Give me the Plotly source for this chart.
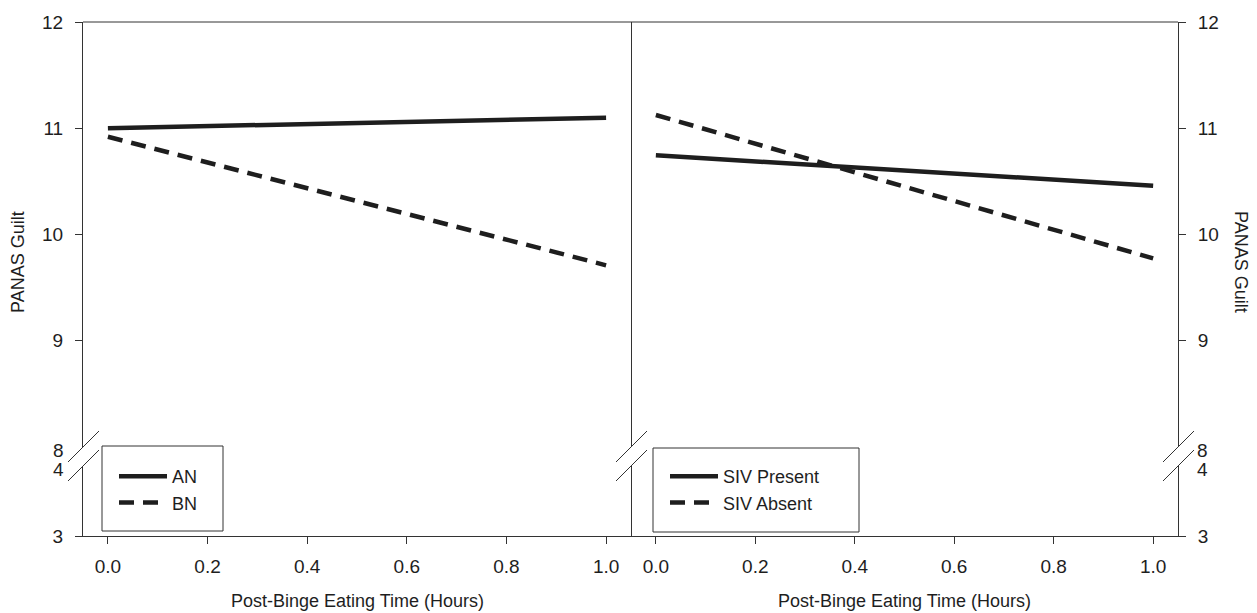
import plotly.graph_objects as go

# ---- data ----
hours = [0.0, 1.0]
an = [11.00, 11.10]
bn = [10.92, 9.71]
siv_present = [10.745, 10.46]
siv_absent = [11.125, 9.775]

x_ticks = [0.0, 0.2, 0.4, 0.6, 0.8, 1.0]
upper_ticks = [9, 10, 11, 12]
lower_ticks = [3]
break_top, break_bottom = 8, 4
y_title = "PANAS Guilt"
x_title = "Post-Binge Eating Time (Hours)"

FONT = "Liberation Sans, Arial, sans-serif"
INK = "#1e1e1e"
AX = "#333333"
OFF = 8  # page body margin
W, H = 1257 - OFF, 613 - OFF
L, R, T, B = 83 - OFF, 79, 22 - OFF, 77
PW, PH = W - L - R, H - T - B


def px(xr):  # reference x pixel -> paper
    return (xr - 83) / PW


def py(yr):  # reference y pixel -> paper
    return (536 - yr) / PH


split = px(631)
up_dom = [py(447), 1.0]
lo_dom = [0.0, py(466)]

fig = go.Figure()
lw = 4.5
dash = "15px,9px"
fig.add_trace(go.Scatter(x=hours, y=an, mode="lines", name="AN",
                         line=dict(color=INK, width=lw), xaxis="x", yaxis="y", legend="legend"))
fig.add_trace(go.Scatter(x=hours, y=bn, mode="lines", name="BN",
                         line=dict(color=INK, width=lw, dash=dash), xaxis="x", yaxis="y", legend="legend"))
fig.add_trace(go.Scatter(x=hours, y=siv_present, mode="lines", name="SIV Present",
                         line=dict(color=INK, width=lw), xaxis="x2", yaxis="y3", legend="legend2"))
fig.add_trace(go.Scatter(x=hours, y=siv_absent, mode="lines", name="SIV Absent",
                         line=dict(color=INK, width=lw, dash=dash), xaxis="x2", yaxis="y3", legend="legend2"))
# placeholders so the lower (broken) axis segments exist as subplots
for xa, ya in [("x", "y2"), ("x2", "y4")]:
    fig.add_trace(go.Scatter(x=[None], y=[None], mode="lines", showlegend=False,
                             hoverinfo="skip", xaxis=xa, yaxis=ya))

tickfont = dict(family=FONT, size=19, color=INK)
xcommon = dict(range=[-0.05, 1.05], tickvals=x_ticks, tickformat=".1f", ticks="outside",
               ticklen=7, tickwidth=1, tickcolor=AX, showline=True, linecolor=AX, linewidth=1,
               showgrid=False, zeroline=False, tickfont=tickfont, ticklabelstandoff=6)
ycommon = dict(ticks="outside", ticklen=7, tickwidth=1, tickcolor=AX, showline=True,
               linecolor=AX, linewidth=1, showgrid=False, zeroline=False,
               tickfont=tickfont, ticklabelstandoff=8)

legfont = dict(family=FONT, size=18, color=INK)
fig.update_layout(
    width=W, height=H, margin=dict(l=L, r=R, t=T, b=B, autoexpand=False),
    paper_bgcolor="white", plot_bgcolor="white",
    font=dict(family=FONT, size=19, color=INK),
    xaxis=dict(domain=[0, split], anchor="y2", **xcommon),
    xaxis2=dict(domain=[split, 1], anchor="y4", **xcommon),
    yaxis=dict(domain=up_dom, range=[8, 12], tickvals=upper_ticks, anchor="x", mirror=True, **ycommon),
    yaxis2=dict(domain=lo_dom, range=[3, 4], tickvals=lower_ticks, anchor="x", mirror=True, **ycommon),
    yaxis3=dict(domain=up_dom, range=[8, 12], tickvals=upper_ticks, anchor="x2", side="right", **ycommon),
    yaxis4=dict(domain=lo_dom, range=[3, 4], tickvals=lower_ticks, anchor="x2", side="right", **ycommon),
    legend=dict(x=px(114), y=py(521), xanchor="left", yanchor="bottom",
                bgcolor="rgba(0,0,0,0)", borderwidth=0, font=legfont,
                itemwidth=48, tracegroupgap=0),
    legend2=dict(x=px(665), y=py(521), xanchor="left", yanchor="bottom",
                 bgcolor="rgba(0,0,0,0)", borderwidth=0, font=legfont,
                 itemwidth=48, tracegroupgap=0),
    showlegend=True,
)

# top border
fig.add_shape(type="line", xref="paper", yref="paper", x0=0, x1=1, y0=1, y1=1,
              line=dict(color=AX, width=1))
# legend boxes
fig.add_shape(type="rect", xref="paper", yref="paper",
              x0=px(102), x1=px(223), y0=py(531), y1=py(446),
              line=dict(color=AX, width=1), fillcolor="rgba(0,0,0,0)")
fig.add_shape(type="rect", xref="paper", yref="paper",
              x0=px(653), x1=px(859), y0=py(532), y1=py(448),
              line=dict(color=AX, width=1), fillcolor="rgba(0,0,0,0)")

# axis break slashes (paper refs so they are not clipped to the plot area)
for xp in [0, split, 1]:
    for yp in [up_dom[0], lo_dom[1]]:
        fig.add_shape(type="line", xref="paper", yref="paper", xsizemode="pixel", ysizemode="pixel",
                      xanchor=xp, yanchor=yp, x0=-15, x1=16, y0=-15, y1=16,
                      line=dict(color=AX, width=1), layer="above")

# break tick labels (no tick marks at the break)
for yv, yl, yr in [(break_top, "y", "y3"), (break_bottom, "y2", "y4")]:
    fig.add_annotation(text=str(yv), xref="paper", yref=yl, x=0, y=yv, xanchor="right",
                       yanchor="middle", xshift=-17, yshift=-3, showarrow=False,
                       font=dict(family=FONT, size=19, color=INK))
    fig.add_annotation(text=str(yv), xref="paper", yref=yr, x=1, y=yv, xanchor="left",
                       yanchor="middle", xshift=17, yshift=-3, showarrow=False,
                       font=dict(family=FONT, size=19, color=INK))

# axis titles
ymid = py(262)
fig.add_annotation(text=y_title, xref="paper", yref="paper", x=0, y=ymid, xshift=-65,
                   xanchor="center", yanchor="middle",
                   textangle=-90, showarrow=False, font=dict(family=FONT, size=18, color=INK))
fig.add_annotation(text=y_title, xref="paper", yref="paper", x=1, y=ymid, xshift=63,
                   xanchor="center", yanchor="middle",
                   textangle=90, showarrow=False, font=dict(family=FONT, size=18, color=INK))
for xc in [split / 2, (split + 1) / 2]:
    fig.add_annotation(text=x_title, xref="paper", yref="paper", x=xc, y=0, yshift=-65,
                       xanchor="center", yanchor="middle", showarrow=False,
                       font=dict(family=FONT, size=18, color=INK))

fig.write_html("out.html")
